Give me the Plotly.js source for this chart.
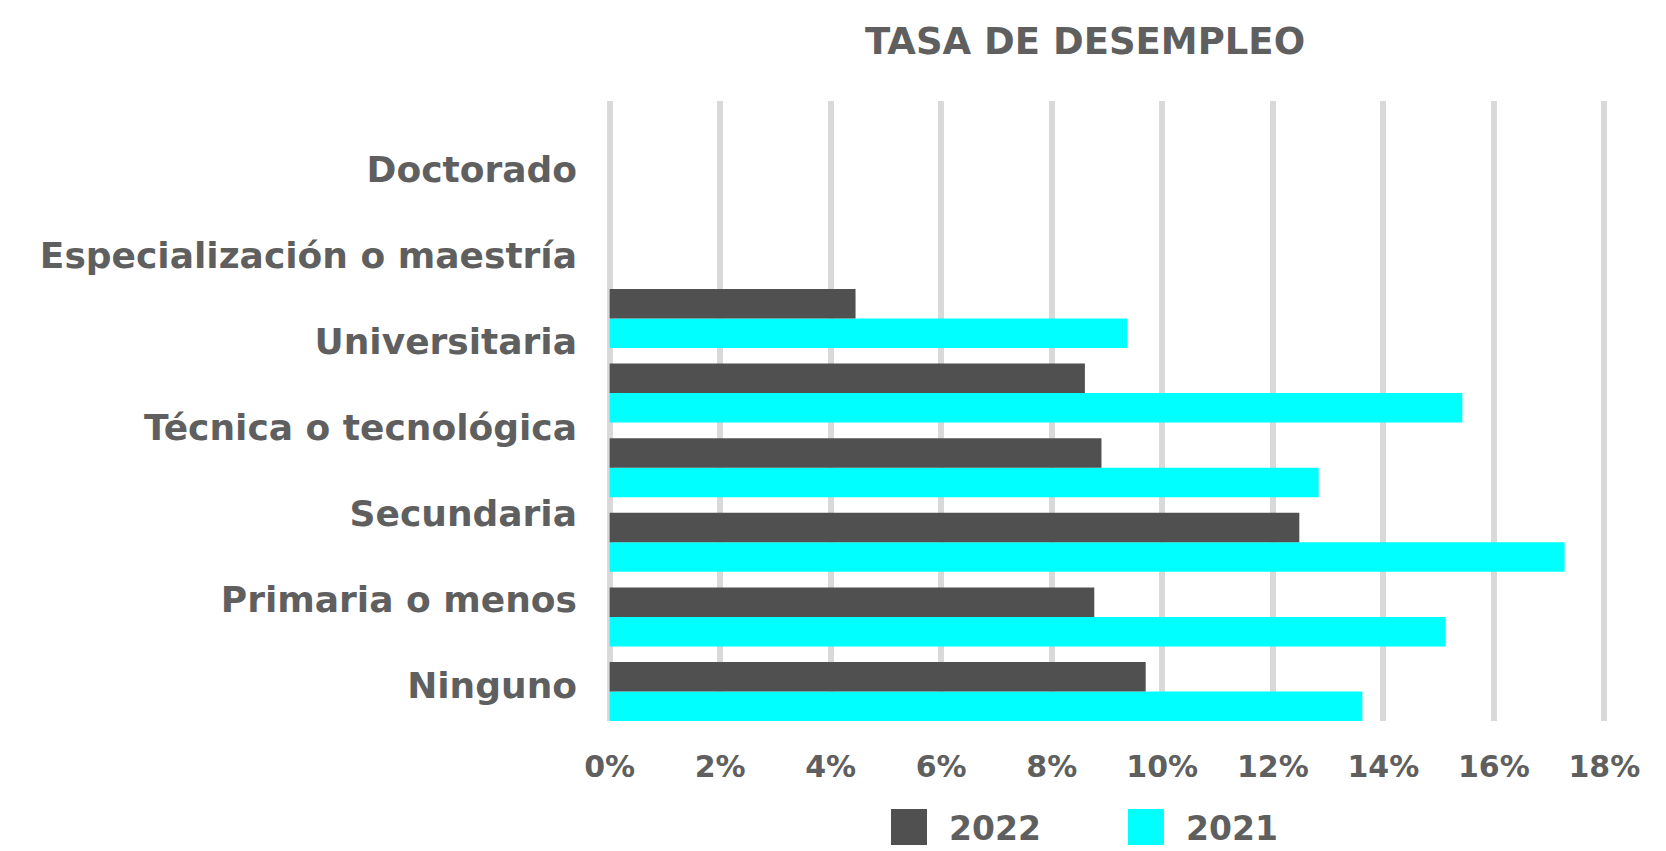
<!DOCTYPE html>
<html>
<head>
<meta charset="utf-8">
<script src="https://cdn.plot.ly/plotly-3.0.1.min.js"></script>
<style>
  html, body { margin: 0; padding: 0; background: #ffffff; }
  #chart { width: 1666px; height: 851px; }
  g.legendpoints path { transform: translate(20px, 0px) scale(3) !important; }
</style>
</head>
<body>
<div id="chart"></div>
<script>
// ---- data ----
const categories = ['Ninguno', 'Primaria o menos', 'Secundaria', 'Técnica o tecnológica',
                    'Universitaria', 'Especialización o maestría', 'Doctorado'];
const values2022 = [9.70, 8.77, 12.48, 8.90, 8.60, 4.45, null];
const values2021 = [13.62, 15.13, 17.28, 12.83, 15.43, 9.37, null];
const seriesNames = ['2022', '2021'];
const chartTitle = 'TASA DE DESEMPLEO';
const tickValues = [0, 2, 4, 6, 8, 10, 12, 14, 16, 18];
const tickLabels = ['0%', '2%', '4%', '6%', '8%', '10%', '12%', '14%', '16%', '18%'];

// ---- styling ----
const FONT = 'DejaVu Sans, Verdana, sans-serif';
const TEXT = '#5f5f5f';

const traces = [
  {
    type: 'bar', orientation: 'h', name: seriesNames[1],
    x: values2021, y: categories, yaxis: 'y',
    marker: { color: '#00ffff' }, hoverinfo: 'x+name'
  },
  {
    type: 'bar', orientation: 'h', name: seriesNames[0],
    x: values2022, y: categories, yaxis: 'y',
    marker: { color: '#505050' }, hoverinfo: 'x+name'
  },
  {
    // carrier for the category labels axis
    type: 'scatter', mode: 'markers', x: categories.map(() => 0), y: categories,
    yaxis: 'y2', marker: { opacity: 0 }, showlegend: false, hoverinfo: 'skip'
  }
];

const layout = {
  width: 1666, height: 851,
  paper_bgcolor: '#ffffff', plot_bgcolor: '#ffffff',
  margin: { l: 603, r: 55, t: 101, b: 130, pad: 0 },
  font: { family: FONT, color: TEXT, weight: 700 },
  title: {
    text: chartTitle,
    font: { family: FONT, size: 37, color: TEXT, weight: 700 },
    xref: 'container', x: 1085 / 1666, xanchor: 'center',
    yref: 'container', y: 1 - 41 / 851, yanchor: 'middle'
  },
  barmode: 'group', bargap: 0.21, bargroupgap: 0,
  xaxis: {
    range: [-0.12, 18.12], tickmode: 'array', tickvals: tickValues, ticktext: tickLabels,
    showgrid: true, gridcolor: '#d9d9d9', gridwidth: 6,
    zeroline: false, showline: false, ticks: '',
    ticklabelstandoff: 25,
    tickfont: { family: FONT, size: 30, color: TEXT, weight: 700 },
    fixedrange: true
  },
  yaxis: {
    type: 'category', categoryorder: 'array', categoryarray: categories,
    range: [-0.395, 7.915], showticklabels: false, showgrid: false,
    zeroline: false, showline: false, ticks: '', fixedrange: true
  },
  yaxis2: {
    type: 'category', categoryorder: 'array', categoryarray: categories,
    overlaying: 'y', side: 'left', anchor: 'x',
    range: [-0.416, 6.802], showgrid: false, zeroline: false, showline: false, ticks: '',
    ticklabelstandoff: 25,
    tickfont: { family: FONT, size: 36, color: TEXT, weight: 700 },
    fixedrange: true
  },
  showlegend: true,
  legend: {
    orientation: 'h', traceorder: 'reversed',
    xref: 'container', x: 889 / 1666, xanchor: 'left',
    yref: 'container', y: 1 - 799 / 851, yanchor: 'top',
    font: { family: FONT, size: 33, color: TEXT, weight: 700 },
    itemwidth: 50, entrywidth: 172,
    bgcolor: 'rgba(0,0,0,0)', borderwidth: 0
  }
};

Plotly.newPlot('chart', traces, layout, { displayModeBar: false, staticPlot: true });
</script>
</body>
</html>
